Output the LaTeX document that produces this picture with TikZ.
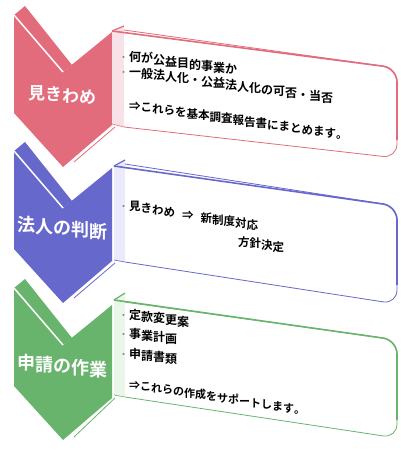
\documentclass[tikz,border=0pt]{standalone}
\usepackage{fontspec}
\setmainfont{Noto Sans CJK JP}[BoldFont={Noto Sans CJK JP Bold}]
\definecolor{mipink}{RGB}{226,108,124}
\definecolor{miblue}{RGB}{102,104,204}
\definecolor{migreen}{RGB}{104,180,108}
\definecolor{pinkside}{RGB}{248,226,231}
\definecolor{blueside}{RGB}{234,234,250}
\definecolor{greenside}{RGB}{234,246,234}
\newcommand\bul{\makebox[11pt]{\textcolor{gray}{\fontsize{8}{8}\selectfont ・}}}
\newcommand\gap{\hspace{7pt}}
% text that runs down to the right, one glyph at a time
\makeatletter
\newcommand\slantline[2]{\begingroup\@tempdima=\z@
  \@tfor\@ch:=#2\do{\setbox\z@\hbox{\@ch}\@tempdimb=\wd\z@
    \lower\@tempdima\box\z@ \advance\@tempdima by #1\@tempdimb}%
  \endgroup}
\makeatother
\begin{document}
\begin{tikzpicture}[x=1pt, y=-1pt,
    lbl/.style={font=\bfseries\fontsize{18}{18}\selectfont, text=white, inner sep=0pt},
    rim/.style={line width=1.6pt, rounded corners=14pt},
    thinrim/.style={line width=0.8pt, rounded corners=14pt},
    txt/.style={font=\bfseries\fontsize{12}{14}\selectfont, anchor=base west, inner sep=0pt},
    small/.style={font=\bfseries\fontsize{11.5}{14}\selectfont}]
  \useasboundingbox (0,0) rectangle (401,455);

  % chevrons
  \begin{scope}[shift={(14,15)}]
    \fill[mipink] (0,0) -- (49,57) -- (98,17) -- (98,110) -- (49,152) -- (0,98) -- cycle;
    \fill[mipink] (0,0) -- (11,-9) -- (58,50) -- (49,57) -- cycle;
    \draw[white, line width=1.5pt] (0,0) -- (49,57);
    \draw[mipink, line width=0.8pt] (60,147) -- (101,112);
  \end{scope}
  \begin{scope}[shift={(14,151)}]
    \fill[miblue] (0,0) -- (49,57) -- (98,17) -- (98,110) -- (49,152) -- (0,98) -- cycle;
    \fill[miblue] (0,0) -- (11,-9) -- (58,50) -- (49,57) -- cycle;
    \draw[white, line width=1.5pt] (0,0) -- (49,57);
    \draw[miblue, line width=0.8pt] (60,147) -- (101,112);
  \end{scope}
  \begin{scope}[shift={(14,288)}]
    \fill[migreen] (0,0) -- (49,57) -- (98,17) -- (98,110) -- (49,152) -- (0,98) -- cycle;
    \fill[migreen] (0,0) -- (11,-9) -- (58,50) -- (49,57) -- cycle;
    \draw[white, line width=1.5pt] (0,0) -- (49,57);
    \draw[migreen, line width=0.8pt] (60,149) -- (101,110);
  \end{scope}
  \node[lbl, font=\bfseries\fontsize{17}{17}\selectfont] (step1) at (62,95) {\slantline{0.09}{見きわめ}};
  \node[lbl] (step2) at (62,228) {\slantline{0.09}{法人の判断}};
  \node[lbl] (step3) at (62,366) {\slantline{0.09}{申請の作業}};

  % box 1
  \fill[pinkside] (112,31) -- (124,26) -- (124,127) -- (112,124) -- cycle;
  \draw[mipink, line width=0.6pt] (112,124) -- (124,127);
  \draw[mipink, line width=1.2pt] (112,31) -- (124,26);
  \fill[white, rounded corners=14pt] (124,30) -- (397,68) -- (397,158) -- (124,127) -- cycle;
  \draw[mipink, thinrim] (124,30) -- (397,68) -- (397,158) -- (124,127);
  \draw[mipink, rim] (112,31) -- (397,68) -- (397,140);
  \node[txt] (b1a) at (118,60)  {\slantline{0.13}{\bul 何が公益目的事業か}};
  \node[txt] (b1b) at (118,75)  {\slantline{0.135}{\bul 一般法人化・公益法人化の可否・当否}};
  \node[txt, small] (b1c) at (129,110) {\slantline{0.14}{⇒これらを基本調査報告書にまとめます。}};

  % box 2
  \fill[blueside] (114,166) -- (125,160) -- (125,262) -- (114,260) -- cycle;
  \draw[miblue, line width=0.6pt] (114,260) -- (125,262);
  \draw[miblue, line width=1.2pt] (114,166) -- (125,160);
  \fill[white, rounded corners=14pt] (125,164) -- (397,206) -- (397,304) -- (125,262) -- cycle;
  \draw[miblue, thinrim] (125,164) -- (397,206) -- (397,304) -- (125,262);
  \draw[miblue, rim] (114,166) -- (397,206) -- (397,285);
  \node[txt, small] (b2a) at (118,209) {\slantline{0.16}{\bul 見きわめ\gap⇒\gap 新制度対応}};
  \node[txt, small] (b2b) at (238,246) {\slantline{0.16}{方針決定}};

  % box 3
  \fill[greenside] (114,300) -- (125,293) -- (125,397) -- (114,395) -- cycle;
  \draw[migreen, line width=0.6pt] (114,395) -- (125,397);
  \draw[migreen, line width=1.2pt] (114,300) -- (125,293);
  \fill[white, rounded corners=14pt] (125,302) -- (397,340) -- (397,438) -- (125,397) -- cycle;
  \draw[migreen, thinrim] (125,302) -- (397,340) -- (397,438) -- (125,397);
  \draw[migreen, rim] (114,300) -- (397,340) -- (397,420);
  \node[txt] (b3a) at (118,318) {\slantline{0.14}{\bul 定款変更案}};
  \node[txt] (b3b) at (118,337) {\slantline{0.14}{\bul 事業計画}};
  \node[txt] (b3c) at (118,357) {\slantline{0.14}{\bul 申請書類}};
  \node[txt, font=\bfseries\fontsize{11}{14}\selectfont] (b3d) at (129,389) {\slantline{0.15}{⇒これらの作成をサポートします。}};
\end{tikzpicture}
\end{document}
